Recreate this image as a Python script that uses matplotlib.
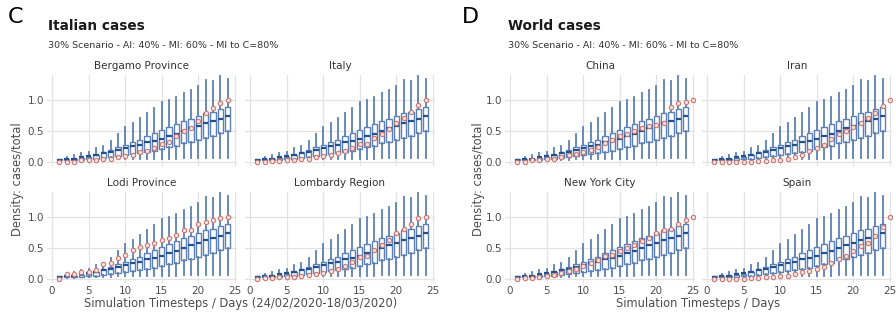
import matplotlib.pyplot as plt

# simulated distribution (same for every panel), days 1..24
days = list(range(1, 25))
sim_median = [0.03, 0.04, 0.05, 0.07, 0.09, 0.11, 0.14, 0.16, 0.19, 0.22, 0.25, 0.27,
              0.31, 0.34, 0.36, 0.41, 0.45, 0.49, 0.54, 0.58, 0.62, 0.65, 0.69, 0.73]
sim_q1 = [0.02, 0.02, 0.03, 0.03, 0.04, 0.05, 0.06, 0.07, 0.09, 0.10, 0.12, 0.14,
          0.16, 0.18, 0.21, 0.23, 0.25, 0.30, 0.32, 0.35, 0.38, 0.42, 0.46, 0.50]
sim_q3 = [0.04, 0.04, 0.05, 0.06, 0.08, 0.11, 0.15, 0.19, 0.23, 0.27, 0.31, 0.35,
          0.41, 0.46, 0.51, 0.56, 0.61, 0.65, 0.69, 0.73, 0.78, 0.81, 0.85, 0.88]
sim_lo = [0.01, 0.01, 0.01, 0.02, 0.02, 0.02, 0.03, 0.03, 0.04, 0.04, 0.04, 0.05,
          0.05, 0.05, 0.05, 0.05, 0.05, 0.06, 0.06, 0.06, 0.06, 0.06, 0.06, 0.06]
sim_hi = [0.05, 0.07, 0.11, 0.14, 0.16, 0.22, 0.25, 0.34, 0.44, 0.56, 0.62, 0.70,
          0.78, 0.86, 0.97, 0.99, 1.05, 1.11, 1.16, 1.22, 1.32, 1.31, 1.38, 1.33]

# observed cases / total
italy_days = list(range(1, 25))
bergamo = [0.0, 0.0, 0.0, 0.02, 0.03, 0.03, 0.04, 0.05, 0.07, 0.09, 0.11, 0.15,
           0.18, 0.22, 0.28, 0.32, 0.42, 0.49, 0.55, 0.66, 0.79, 0.87, 0.94, 1.0]
italy = [0.0, 0.0, 0.01, 0.01, 0.02, 0.03, 0.04, 0.05, 0.07, 0.09, 0.11, 0.14,
         0.17, 0.22, 0.28, 0.29, 0.38, 0.45, 0.53, 0.62, 0.71, 0.80, 0.91, 1.0]
lodi = [0.0, 0.07, 0.08, 0.10, 0.11, 0.14, 0.24, 0.26, 0.33, 0.39, 0.47, 0.51,
        0.55, 0.58, 0.63, 0.66, 0.71, 0.78, 0.79, 0.89, 0.92, 0.95, 0.98, 1.0]
lombardy = [0.0, 0.01, 0.01, 0.02, 0.02, 0.03, 0.05, 0.06, 0.07, 0.09, 0.12, 0.15,
            0.20, 0.27, 0.35, 0.36, 0.47, 0.55, 0.62, 0.73, 0.80, 0.88, 0.98, 1.0]

world_days = list(range(1, 26))
china = [0.0, 0.0, 0.02, 0.03, 0.04, 0.05, 0.07, 0.10, 0.12, 0.15, 0.19, 0.24, 0.30,
         0.35, 0.41, 0.45, 0.50, 0.54, 0.57, 0.59, 0.62, 0.88, 0.94, 0.97, 1.0]
iran = [0.0, 0.0, 0.0, 0.0, 0.0, 0.0, 0.01, 0.01, 0.02, 0.03, 0.05, 0.07, 0.11,
        0.17, 0.22, 0.27, 0.37, 0.44, 0.50, 0.56, 0.63, 0.71, 0.79, 0.90, 1.0]
nyc = [0.0, 0.01, 0.01, 0.02, 0.04, 0.06, 0.09, 0.12, 0.16, 0.21, 0.25, 0.30, 0.36,
       0.39, 0.45, 0.50, 0.55, 0.61, 0.66, 0.73, 0.78, 0.80, 0.88, 0.94, 1.0]
spain = [0.0, 0.0, 0.0, 0.0, 0.0, 0.01, 0.01, 0.02, 0.03, 0.04, 0.05, 0.08, 0.10,
         0.13, 0.16, 0.19, 0.25, 0.31, 0.36, 0.44, 0.52, 0.58, 0.69, 0.84, 1.0]

BOX_BLUE = "#5d80b6"
MED_BLUE = "#23518f"
OBS_RED = "#cc7770"
GRID = "#e3e3e3"
TXT = "#4d4d4d"

W, H = 896, 320


def rect(x0, y0, w, h):
    # pixel box (top-left origin) -> figure fraction
    return [x0 / W, 1 - (y0 + h) / H, w / W, h / H]


def fx(x):
    return x / W


def fy(y):
    return 1 - y / H


def box_stats():
    return [dict(med=m, q1=a, q3=b, whislo=lo, whishi=hi, fliers=[])
            for m, a, b, lo, hi in zip(sim_median, sim_q1, sim_q3, sim_lo, sim_hi)]


def draw_panel(ax, name, obs_x, obs_y, show_x, show_y):
    ax.set_facecolor("white")
    for s in ax.spines.values():
        s.set_visible(False)
    ax.set_axisbelow(True)
    ax.grid(True, color=GRID, linewidth=0.9)

    ax.bxp(box_stats(), positions=days, widths=0.72, showcaps=False, showfliers=False,
           patch_artist=True,
           boxprops=dict(facecolor="white", edgecolor=BOX_BLUE, linewidth=1.0),
           whiskerprops=dict(color=BOX_BLUE, linewidth=1.3),
           medianprops=dict(color=MED_BLUE, linewidth=1.6),
           manage_ticks=False)
    ax.scatter(obs_x, obs_y, s=10, facecolor="#f7e3e1", edgecolor=OBS_RED,
               linewidth=0.8, zorder=5)

    ax.set_xlim(-0.7, 25.3)
    ax.set_ylim(-0.07, 1.40)
    ax.set_xticks([0, 5, 10, 15, 20, 25])
    ax.set_yticks([0.0, 0.5, 1.0])
    ax.set_yticklabels(["0.0", "0.5", "1.0"])
    ax.tick_params(length=0, labelsize=7.5, labelcolor=TXT, pad=2)
    if not show_x:
        ax.tick_params(labelbottom=False)
    if not show_y:
        ax.tick_params(labelleft=False)
    ax.set_title(name, fontsize=7.5, color="#333333", pad=4)


fig = plt.figure(figsize=(W / 100, H / 100), dpi=100)

groups = [
    dict(letter="C", lx=8, tx=48, title="Italian cases", lefts=[47, 245],
         xlab="Simulation Timesteps / Days (24/02/2020-18/03/2020)", ylx=18,
         panels=[("Bergamo Province", italy_days, bergamo), ("Italy", italy_days, italy),
                 ("Lodi Province", italy_days, lodi), ("Lombardy Region", italy_days, lombardy)]),
    dict(letter="D", lx=462, tx=508, title="World cases", lefts=[505, 702],
         xlab="Simulation Timesteps / Days", ylx=478,
         panels=[("China", world_days, china), ("Iran", world_days, iran),
                 ("New York City", world_days, nyc), ("Spain", world_days, spain)]),
]

tops = [75, 192]
pw, ph = 190, 91

for g in groups:
    for i, (name, ox, oy) in enumerate(g["panels"]):
        row, col = divmod(i, 2)
        ax = fig.add_axes(rect(g["lefts"][col], tops[row], pw, ph))
        draw_panel(ax, name, ox, oy, show_x=(row == 1), show_y=(col == 0))

    fig.text(fx(g["lx"]), fy(17), g["letter"], fontsize=16, ha="left", va="center")
    fig.text(fx(g["tx"]), fy(26), g["title"], fontsize=9.8, fontweight="bold",
             ha="left", va="center", color="#1a1a1a")
    fig.text(fx(g["tx"]), fy(45), "30% Scenario - AI: 40% - MI: 60% - MI to C=80%",
             fontsize=6.8, ha="left", va="center", color="#333333")
    cx = (g["lefts"][0] + g["lefts"][1] + pw) / 2
    fig.text(fx(cx), fy(303), g["xlab"], fontsize=8.3, ha="center", va="center", color=TXT)
    fig.text(fx(g["ylx"]), fy(179), "Density: cases/total", fontsize=8.3, rotation=90,
             ha="center", va="center", color=TXT)

fig.savefig("out.png", dpi=100)
